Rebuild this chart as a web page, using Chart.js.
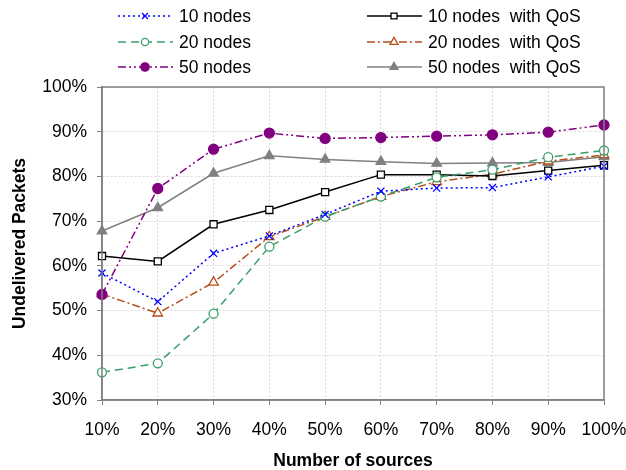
<!DOCTYPE html>
<html>
<head>
<meta charset="utf-8">
<script src="https://cdn.jsdelivr.net/npm/chart.js@4.4.1/dist/chart.umd.min.js"></script>
<style>
  html, body { margin: 0; padding: 0; background: #fff; }
  #wrap { width: 626px; height: 470px; }
</style>
</head>
<body>
<div id="wrap"><canvas id="chart"></canvas></div>
<script>
// x categories and y tick values
const sources = ["10%","20%","30%","40%","50%","60%","70%","80%","90%","100%"];
const yTicks = [30, 40, 50, 60, 70, 80, 90, 100];

// undelivered packets (%)
const nodes10    = [58.4, 52.0, 62.8, 66.7, 71.5, 76.7, 77.4, 77.5, 79.9, 82.3];
const nodes20    = [36.2, 38.2, 49.3, 64.3, 71.0, 75.5, 79.8, 81.5, 84.3, 85.8];
const nodes50    = [53.6, 77.3, 86.1, 89.7, 88.5, 88.7, 89.0, 89.3, 89.9, 91.5];
const nodes10QoS = [62.2, 61.0, 69.3, 72.5, 76.5, 80.4, 80.4, 80.1, 81.3, 82.5];
const nodes20QoS = [53.7, 49.4, 56.3, 66.5, 71.0, 75.5, 78.8, 80.5, 83.4, 84.8];
const nodes50QoS = [67.8, 73.0, 80.7, 84.6, 83.8, 83.3, 82.9, 83.0, 83.1, 84.4];

const FONT = "Liberation Sans, Arial, sans-serif";

function ds(label, data, color, dash, style, fill, radius) {
  return {
    label: label,
    data: data,
    borderColor: color,
    borderWidth: 1.5,
    borderDash: dash,
    pointStyle: style,
    pointRadius: radius,
    pointBorderColor: color,
    pointBackgroundColor: fill ? color : "#fff",
    pointBorderWidth: 1.3,
    tension: 0
  };
}

const datasets = [
  ds("10 nodes", nodes10, "#0000ff", [2, 3], "crossRot", false, 5),
  ds("20 nodes", nodes20, "#3a9f6a", [8, 5], "circle", false, 4.5),
  ds("50 nodes", nodes50, "#800080", [8, 3, 2, 3, 2, 3], "circle", true, 5),
  ds("10 nodes  with QoS", nodes10QoS, "#000000", [], "rect", false, 5),
  ds("20 nodes  with QoS", nodes20QoS, "#b5501a", [8, 3, 2, 3], "triangle", false, 5.5),
  ds("50 nodes  with QoS", nodes50QoS, "#808080", [], "triangle", true, 5.5)
];

// legend in two columns above the plot, plus the box around the plot area
const legendAndBox = {
  id: "legendAndBox",
  afterDraw(chart) {
    const ctx = chart.ctx;
    const a = chart.chartArea;
    ctx.save();
    ctx.strokeStyle = "#808080";
    ctx.lineWidth = 1.5;
    ctx.strokeRect(a.left, a.top, a.right - a.left, a.bottom - a.top);

    const cols = [118, 367];
    const rows = [16, 42, 67];
    chart.data.datasets.forEach((d, i) => {
      const x = cols[Math.floor(i / 3)];
      const y = rows[i % 3];
      ctx.strokeStyle = d.borderColor;
      ctx.lineWidth = d.borderWidth;
      ctx.setLineDash(d.borderDash);
      ctx.beginPath();
      ctx.moveTo(x, y);
      ctx.lineTo(x + 55, y);
      ctx.stroke();
      ctx.setLineDash([]);
      ctx.fillStyle = d.pointBackgroundColor;
      ctx.strokeStyle = d.pointBorderColor;
      ctx.lineWidth = d.pointBorderWidth;
      Chart.helpers.drawPoint(ctx, {
        pointStyle: d.pointStyle,
        radius: d.pointRadius - 0.8,
        rotation: 0,
        borderWidth: d.pointBorderWidth
      }, x + 27, y);
      ctx.fillStyle = "#000";
      ctx.font = "17.5px " + FONT;
      ctx.textBaseline = "middle";
      ctx.textAlign = "left";
      ctx.fillText(d.label, x + 61, y + 1);
    });
    ctx.restore();
  }
};

new Chart(document.getElementById("chart"), {
  type: "line",
  data: { labels: sources, datasets: datasets },
  options: {
    responsive: true,
    maintainAspectRatio: false,
    animation: false,
    layout: { padding: { top: 87, right: 22, left: 0, bottom: 0 } },
    plugins: { legend: { display: false }, tooltip: { enabled: false } },
    scales: {
      x: {
        offset: false,
        afterFit: s => { s.height = 70; s.paddingLeft = 0; s.paddingRight = 0; },
        grid: {
          color: "#d8d8d8",
          tickColor: "#808080",
          tickLength: 5,
          tickBorderDash: []
        },
        border: { color: "#808080", width: 1.5, dash: [2, 2] },
        ticks: { color: "#000", font: { family: FONT, size: 17.5 }, padding: 15, maxRotation: 0, autoSkip: false },
        title: {
          display: true, text: "Number of sources", color: "#000",
          font: { family: FONT, size: 17.5, weight: "bold" }, padding: { top: 4, bottom: -2 }
        }
      },
      y: {
        min: 30, max: 100,
        afterFit: s => { s.width = 102; },
        afterBuildTicks: s => { s.ticks = yTicks.map(v => ({ value: v })); },
        grid: {
          color: "#d8d8d8",
          tickColor: "#808080",
          tickLength: 5,
          tickBorderDash: []
        },
        border: { color: "#808080", width: 1.5, dash: [2, 2] },
        ticks: { color: "#000", font: { family: FONT, size: 17.5 }, padding: 10, callback: v => v + "%" },
        title: {
          display: true, text: "Undelivered Packets", color: "#000",
          font: { family: FONT, size: 17.5, weight: "bold" }, padding: { top: 10, bottom: 0 }
        }
      }
    }
  },
  plugins: [legendAndBox]
});
</script>
</body>
</html>
